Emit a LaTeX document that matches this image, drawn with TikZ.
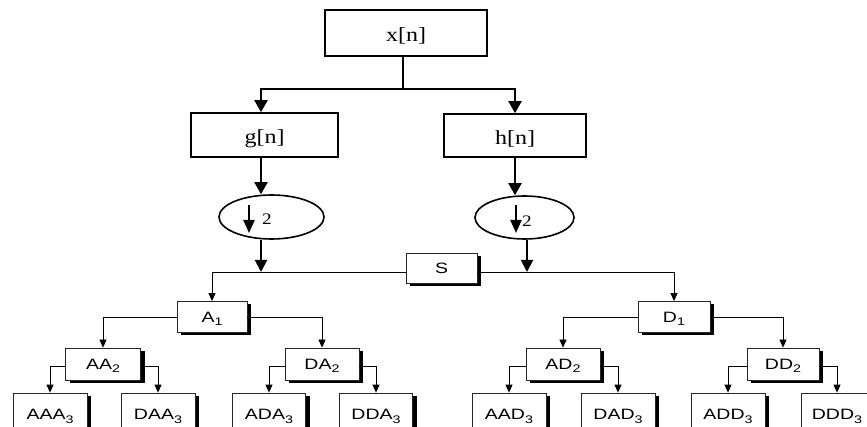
\documentclass[tikz,border=0pt]{standalone}
\usepackage{fontspec}
\setmainfont{Liberation Serif}[FakeStretch=1.2]
\newfontfamily\sansfnt{Liberation Sans}[FakeStretch=1.3]
\usetikzlibrary{arrows.meta,shapes.geometric,shadows,calc}
\newcommand{\lowidx}[1]{\raisebox{-3.5pt}{\fontsize{11}{11}\selectfont #1}}
\tikzset{
  topbox/.style={draw=black,line width=1.6pt,fill=white,inner sep=0pt,
    font=\fontsize{20}{20}\selectfont,text height=18pt,text depth=0pt},
  topoval/.style={draw=black,ellipse,line width=1.6pt,fill=white,inner sep=0pt},
  topline/.style={line width=2pt},
  toptip/.style={-{Triangle[width=13pt,length=12pt]}},
  intip/.style={-{Triangle[width=11pt,length=13pt]}},
  twolbl/.style={inner sep=0pt,font=\fontsize{16}{16}\selectfont},
  shbox/.style={draw=black!85,line width=0.8pt,fill=white,inner sep=0pt,
    font=\sansfnt\fontsize{15}{15}\selectfont,text height=11pt,text depth=0pt,
    drop shadow={shadow xshift=4pt,shadow yshift=-3pt,fill=black,opacity=1}},
  lowline/.style={line width=0.8pt},
  lowtip/.style={-{Triangle[width=7pt,length=8pt]}},
  midtip/.style={-{Triangle[width=12pt,length=12pt]}}
}
\begin{document}
\begin{tikzpicture}[x=1pt,y=-1pt]
\useasboundingbox (0,0) rectangle (867,427);
\clip (0,0) rectangle (867,427);
\fill[white] (0,0) rectangle (867,427);

% top part
\node[topbox,minimum width=162pt,minimum height=46pt] (xn) at (406,33) {x[n]};
\node[topbox,minimum width=147pt,minimum height=44pt] (g) at (264.5,135) {g[n]};
\node[topbox,minimum width=142pt,minimum height=43pt] (h) at (515,135.5) {h[n]};
\node[topoval,minimum width=105pt,minimum height=44pt] (el) at (271.5,217) {};
\node[topoval,minimum width=99pt,minimum height=43pt] (er) at (524.5,217.5) {};

\coordinate (xj) at (403,89);
\coordinate (gj) at (261,89);
\coordinate (hj) at (515,89);
\draw[topline] (xj |- xn.south) -- (xj);
\draw[topline,toptip] (xj) -- (gj) -- (gj |- g.north);
\draw[topline,toptip] (xj) -- (hj) -- (hj |- h.north);
\draw[topline,toptip] (gj |- g.south) -- (gj |- el.north);
\draw[topline,toptip] (hj |- h.south) -- (hj |- er.north);

% inside the ovals
\coordinate (ila) at (249,205);
\coordinate (ilb) at (249,233);
\coordinate (ira) at (516,205);
\coordinate (irb) at (516,233);
\draw[topline,intip] (ila) -- (ilb);
\draw[topline,intip] (ira) -- (irb);
\node[twolbl] (tl) at (267,219) {2};
\node[twolbl] (tr) at (527,221) {2};

% S and junctions
\node[shbox,minimum width=71pt,minimum height=30pt] (S) at (441.5,268) {S};
\coordinate (lj) at (261,272);
\coordinate (rj) at (527,272);
\draw[topline,midtip] (lj |- el.south) -- (lj);
\draw[topline,midtip] (rj |- er.south) -- (rj);

% level 1
\node[shbox,minimum width=70pt,minimum height=31pt] (A1) at (212,317) {A\lowidx{1}};
\node[shbox,minimum width=72pt,minimum height=31pt] (D1) at (674,317) {D\lowidx{1}};
\draw[lowline,lowtip] (S.west |- lj) -| (A1.north);
\draw[lowline,lowtip] (S.east |- lj) -| (D1.north);

% level 2
\node[shbox,minimum width=75pt,minimum height=32pt] (AA2) at (103,364) {AA\lowidx{2}};
\node[shbox,minimum width=74pt,minimum height=32pt] (DA2) at (322,364) {DA\lowidx{2}};
\node[shbox,minimum width=74pt,minimum height=32pt] (AD2) at (563,364) {AD\lowidx{2}};
\node[shbox,minimum width=72pt,minimum height=32pt] (DD2) at (783,364) {DD\lowidx{2}};
\draw[lowline,lowtip] (A1.west) -| (AA2.north);
\draw[lowline,lowtip] (A1.east) -| (DA2.north);
\draw[lowline,lowtip] (D1.west) -| (AD2.north);
\draw[lowline,lowtip] (D1.east) -| (DD2.north);

% level 3
\node[shbox,minimum width=74pt,minimum height=42pt] (AAA3) at (50,414) {AAA\lowidx{3}};
\node[shbox,minimum width=74pt,minimum height=42pt] (DAA3) at (158,414) {DAA\lowidx{3}};
\node[shbox,minimum width=73pt,minimum height=42pt] (ADA3) at (269,414) {ADA\lowidx{3}};
\node[shbox,minimum width=73pt,minimum height=42pt] (DDA3) at (376,414) {DDA\lowidx{3}};
\node[shbox,minimum width=74pt,minimum height=42pt] (AAD3) at (509,414) {AAD\lowidx{3}};
\node[shbox,minimum width=74pt,minimum height=42pt] (DAD3) at (618,414) {DAD\lowidx{3}};
\node[shbox,minimum width=74pt,minimum height=42pt] (ADD3) at (728,414) {ADD\lowidx{3}};
\node[shbox,minimum width=72pt,minimum height=42pt] (DDD3) at (837,414) {DDD\lowidx{3}};
\draw[lowline,lowtip] ([yshift=-2pt]AA2.west) -| (AAA3.north);
\draw[lowline,lowtip] ([yshift=-2pt]AA2.east) -| (DAA3.north);
\draw[lowline,lowtip] ([yshift=-2pt]DA2.west) -| (ADA3.north);
\draw[lowline,lowtip] ([yshift=-2pt]DA2.east) -| (DDA3.north);
\draw[lowline,lowtip] ([yshift=-2pt]AD2.west) -| (AAD3.north);
\draw[lowline,lowtip] ([yshift=-2pt]AD2.east) -| (DAD3.north);
\draw[lowline,lowtip] ([yshift=-2pt]DD2.west) -| (ADD3.north);
\draw[lowline,lowtip] ([yshift=-2pt]DD2.east) -| (DDD3.north);
\end{tikzpicture}
\end{document}
